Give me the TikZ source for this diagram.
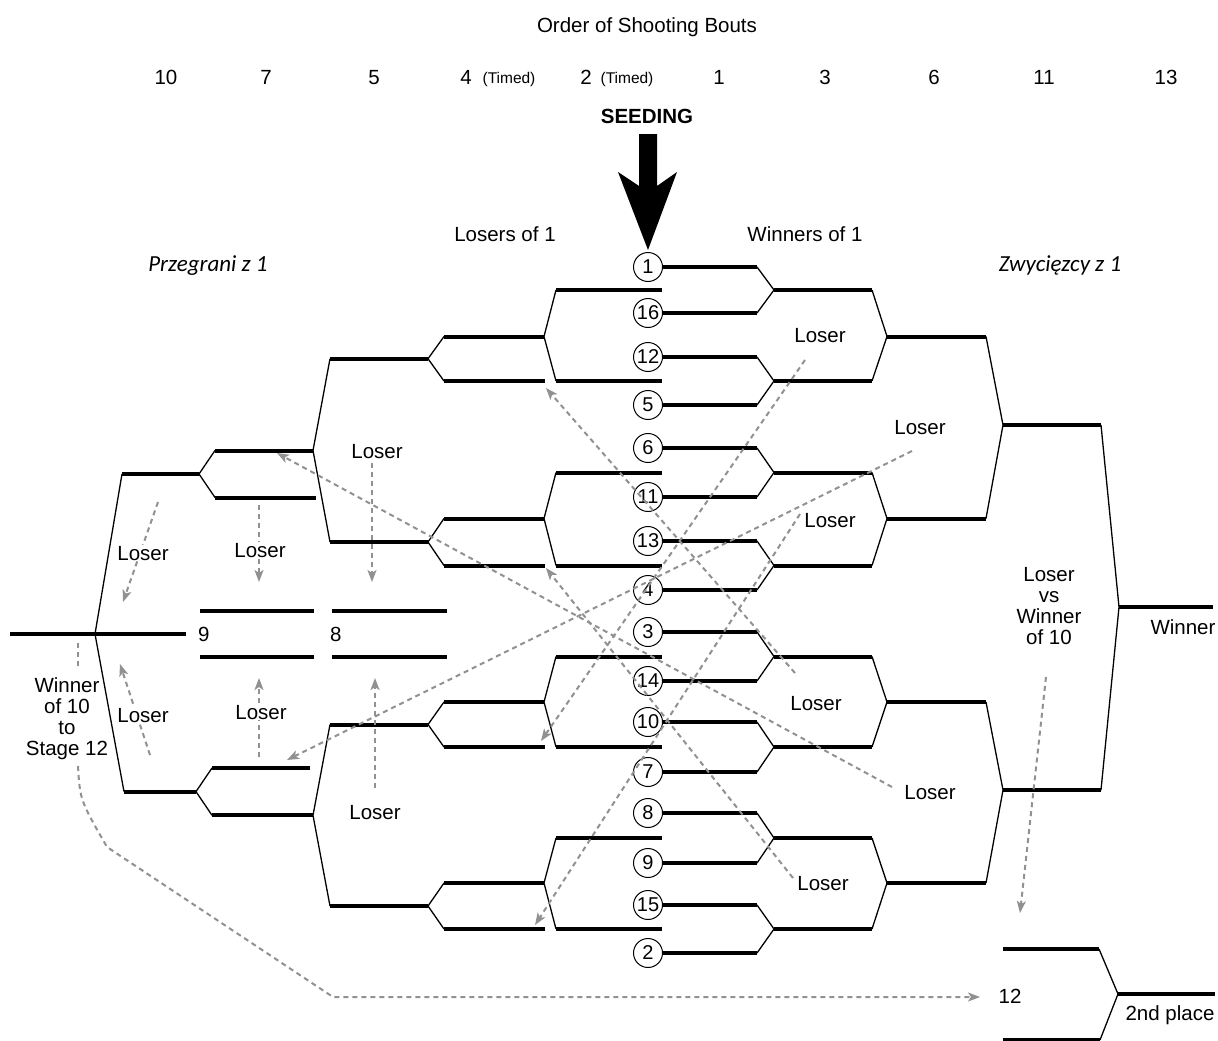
\documentclass[tikz,border=0pt]{standalone}
\usepackage{fontspec}
\setmainfont{Liberation Sans}
\newfontfamily\carlito{Carlito}
\usetikzlibrary{arrows.meta}
\definecolor{dashgray}{RGB}{145,145,145}
\begin{document}
\begin{tikzpicture}[x=1pt,y=-1pt,
  thickbar/.style={line width=4pt},
  joinline/.style={line width=1.3pt},
  loseline/.style={draw=dashgray, line width=2pt, dash pattern=on 5pt off 4pt},
  losearrow/.style={loseline, -{Stealth[length=12pt,width=9pt,inset=3pt]}},
  lbl/.style={font=\fontsize{20.5}{21}\selectfont, inner sep=1pt, text height=14.8pt, text depth=0pt},
  small/.style={font=\fontsize{15.5}{16}\selectfont, inner sep=1pt, text height=11.2pt, text depth=0pt},
  ital/.style={font=\carlito\itshape\fontsize{23}{24}\selectfont, inner sep=1pt, text height=14.8pt, text depth=0pt},
  seed/.style={circle, draw, line width=1pt, fill=white, minimum size=29pt, inner sep=0pt, font=\fontsize{20}{20}\selectfont},
]
\fill[white] (0,0) rectangle (1218,1041);
\useasboundingbox (0,0) rectangle (1218,1041);

% ---------- header ----------
\node[lbl] (title) at (647,25) {Order of Shooting Bouts};
\node[lbl] (b10) at (166,77) {10};
\node[lbl] (b7) at (266,77) {7};
\node[lbl] (b5) at (374,77) {5};
\node[lbl] (b4) at (466,77) {4};
\node[small] (b4t) at (509,78) {(Timed)};
\node[lbl] (b2) at (586,77) {2};
\node[small] (b2t) at (627,78) {(Timed)};
\node[lbl] (b1) at (719,77) {1};
\node[lbl] (b3) at (825,77) {3};
\node[lbl] (b6) at (934,77) {6};
\node[lbl] (b11) at (1044,77) {11};
\node[lbl] (b13) at (1166,77) {13};
\node[lbl, font=\bfseries\fontsize{20.5}{21}\selectfont] (seeding) at (647,116) {SEEDING};
\fill (639,134) -- (657,134) -- (657,186) -- (677,172) -- (648,250) -- (618,172) -- (639,186) -- cycle;

\node[lbl] (losers1) at (505,234) {Losers of 1};
\node[lbl] (winners1) at (805,234) {Winners of 1};
\node[ital] (przeg) at (208,264) {Przegrani z 1};
\node[ital] (zwyc) at (1060,264) {Zwycięzcy z 1};

% ---------- seeds ----------
\foreach \n/\y in {1/267,16/313,12/357,5/405,6/448,11/497,13/541,4/590,3/632,14/681,10/722,7/772,8/813,9/863,15/905,2/953}
  \node[seed] (s\n) at (648,\y) {\n};

% ---------- winners bracket, round 1, and losers lines of bout 2 ----------
\foreach \a/\b/\ya/\yb/\m in {1/16/267/313/290, 12/5/357/405/381, 6/11/448/497/472.5, 13/4/541/590/565.5, 3/14/632/681/656.5, 10/7/722/772/747, 8/9/813/863/838, 15/2/905/953/929}{
  \draw[thickbar] (s\a.east) -- (757,\ya);
  \draw[thickbar] (s\b.east) -- (757,\yb);
  \draw[joinline] (757,\ya) -- (774,\m) -- (757,\yb);
  \draw[thickbar] (774,\m) -- (872,\m);
  \draw[thickbar] (556,\m) -- (662,\m);
}

% ---------- winners round 2 / losers bouts 2 and 4 ----------
\foreach \p/\q/\m/\r in {290/381/336.5/358.75, 472.5/565.5/518.5/542, 656.5/747/702/724.5, 838/929/883/906}{
  \draw[joinline] (872,\p) -- (887,\m) -- (872,\q);
  \draw[thickbar] (887,\m) -- (986,\m);
  \draw[joinline] (556,\p) -- (544,\m) -- (556,\q);
  \draw[thickbar] (444,\m) -- (544,\m);
  \draw[thickbar] (444,\q) -- (545,\q);
  \draw[joinline] (444,\m) -- (428,\r) -- (444,\q);
  \draw[thickbar] (330,\r) -- (428,\r);
}

% ---------- winners rounds 3, 4 and final ----------
\draw[joinline] (986,336.5) -- (1003,425) -- (986,518.5);
\draw[thickbar] (1003,425) -- (1101,425);
\draw[joinline] (986,702) -- (1003,790) -- (986,883);
\draw[thickbar] (1003,790) -- (1101,790);
\draw[joinline] (1101,425) -- (1119,607) -- (1101,790);
\draw[thickbar] (1119,607) -- (1213,607);
\node[lbl] (winner) at (1183,627) {Winner};

% ---------- losers bouts 5, 7, 10 ----------
\draw[joinline] (330,358.75) -- (313,450.5) -- (330,542);
\draw[joinline] (330,724.5) -- (313,815.3) -- (330,906);
\draw[thickbar] (215,450.5) -- (313,450.5);
\draw[thickbar] (215,497.5) -- (316,497.5);
\draw[joinline] (215,450.5) -- (199,474) -- (215,497.5);
\draw[thickbar] (212,768) -- (310,768);
\draw[thickbar] (212,815.3) -- (313,815.3);
\draw[joinline] (212,768) -- (196,791.6) -- (212,815.3);
\draw[thickbar] (122,474) -- (199,474);
\draw[thickbar] (124,791.6) -- (196,791.6);
\draw[joinline] (122,474) -- (95,634) -- (124,791.6);
\draw[thickbar] (10,634) -- (186,634);

% ---------- bouts 9 and 8 ----------
\draw[thickbar] (200,610.7) -- (314,610.7);
\draw[thickbar] (200,657) -- (314,657);
\draw[thickbar] (332,610.7) -- (447,610.7);
\draw[thickbar] (332,657) -- (447,657);
\node[lbl, anchor=west] (n9) at (197,634) {9};
\node[lbl, anchor=west] (n8) at (329,634) {8};

% ---------- bout 12 ----------
\draw[thickbar] (1003,949) -- (1099,949);
\draw[joinline] (1099,949) -- (1118,994) -- (1100,1040);
\draw[thickbar] (1118,994) -- (1215,994);
\draw[thickbar] (1003,1040) -- (1100,1040);
\node[lbl] (n12) at (1010,996) {12};
\node[lbl] (second) at (1170,1013) {2nd place};

% ---------- right-side loser labels and dashed arrows ----------
\node[lbl] (rl1) at (820,335) {Loser};
\node[lbl] (rl2) at (920,427) {Loser};
\node[lbl] (rl3) at (830,520) {Loser};
\node[lbl] (rl4) at (816,703) {Loser};
\node[lbl] (rl5) at (930,792) {Loser};
\node[lbl] (rl6) at (823,883) {Loser};
\coordinate (d1s) at (805,360); \coordinate (d1e) at (541,741);
\coordinate (d2s) at (912,451); \coordinate (d2e) at (287,760);
\coordinate (d3s) at (800,514); \coordinate (d3e) at (535,925);
\coordinate (d4s) at (795,673); \coordinate (d4e) at (546,388);
\coordinate (d5s) at (892,787); \coordinate (d5e) at (277,453);
\coordinate (d6s) at (793,878); \coordinate (d6e) at (546,568);
\foreach \i in {1,...,6} \draw[losearrow] (d\i s) -- (d\i e);

% ---------- left-side loser arrows ----------
\coordinate (e1s) at (158,502); \coordinate (e1e) at (123,602);
\coordinate (e2s) at (150,755); \coordinate (e2e) at (120,664);
\coordinate (e3s) at (259,505); \coordinate (e3e) at (259,582);
\coordinate (e4s) at (259,757); \coordinate (e4e) at (259,678);
\coordinate (e5s) at (372,463); \coordinate (e5e) at (372,582);
\coordinate (e6s) at (375,788); \coordinate (e6e) at (375,678);
\foreach \i in {1,...,6} \draw[losearrow] (e\i s) -- (e\i e);
\node[lbl, fill=white] (ll1) at (143,553) {Loser};
\node[lbl, fill=white] (ll2) at (143,715) {Loser};
\node[lbl, fill=white] (ll3) at (260,550) {Loser};
\node[lbl, fill=white] (ll4) at (261,712) {Loser};
\node[lbl] (ll5) at (377,451) {Loser};
\node[lbl] (ll6) at (375,812) {Loser};

% ---------- winner of 10 to stage 12 (node placed at its last line) ----------
\node[lbl, align=center] (w10) at (67,748) {Winner\\of 10\\to\\Stage 12};
\coordinate (w10a) at (78,643);
\coordinate (w10b) at (78,666);
\coordinate (w10c) at (78,766);
\coordinate (w10d) at (107,847);
\coordinate (w10e) at (333,997);
\coordinate (w10f) at (980,997);
\draw[loseline] (w10a) -- (w10b);
\draw[losearrow] (w10c) .. controls (80,800) .. (w10d) -- (w10e) -- (w10f);

% ---------- loser vs winner of 10 (node placed at its last line) ----------
\node[lbl, align=center] (lvw) at (1049,637) {Loser\\vs\\Winner\\of 10};
\coordinate (f1s) at (1046,677); \coordinate (f1e) at (1020,913);
\draw[losearrow] (f1s) -- (f1e);
\end{tikzpicture}
\end{document}
